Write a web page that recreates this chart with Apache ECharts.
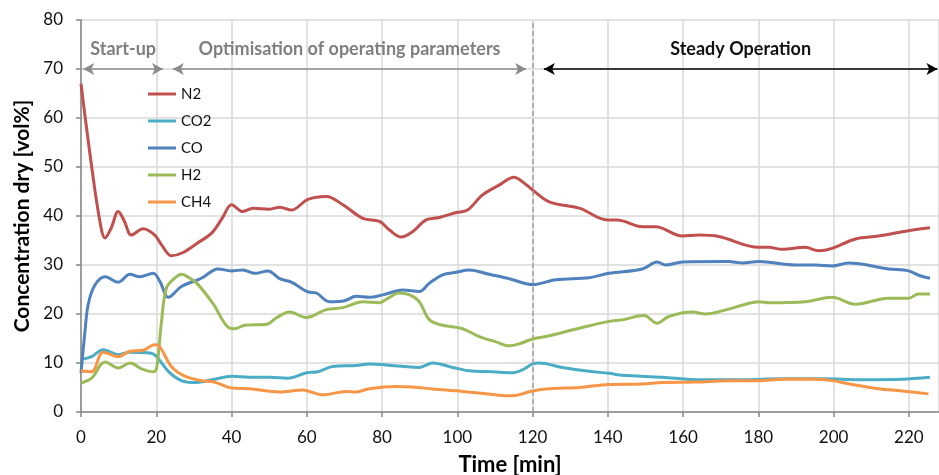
<!DOCTYPE html>
<html>
<head>
<meta charset="utf-8">
<script src="https://cdn.jsdelivr.net/npm/echarts@6/dist/echarts.min.js"></script>
<style>
  html, body { margin: 0; padding: 0; background: #fff; }
  #chart { width: 939px; height: 475px; }
</style>
</head>
<body>
<div id="chart"></div>
<script>
// Gas composition (dry, vol%) over time, as [minute, value] pairs
const n2Data = [[0,67],[2.5,52],[5,39],[6.4,35.5],[8,37.5],[9.9,40.9],[11.5,39],[13.4,36.1],[16.5,37.4],[19.6,36.1],[21.5,34],[24,31.9],[27,32.5],[31,34.5],[34.7,36.5],[37.5,39.5],[40,42.3],[43,40.9],[45.7,41.6],[50.1,41.4],[52.8,41.8],[55.9,41.2],[60.3,43.4],[65.2,44.0],[69.6,42.3],[74.9,39.5],[79.3,38.9],[81.9,37.2],[85.1,35.7],[88.1,36.8],[91.7,39.2],[95.2,39.7],[99.7,40.7],[102.7,41.2],[106.7,44.3],[111.1,46.3],[115.1,47.9],[117.3,47.0],[120,45.3],[124.4,42.9],[132.4,41.6],[139.9,39.2],[142.5,39.2],[149.2,37.8],[152.7,37.8],[159.8,35.9],[164.2,36.1],[169.5,35.8],[180.1,33.6],[182.8,33.6],[186.3,33.2],[192.5,33.6],[196,32.9],[199.6,33.4],[205.8,35.3],[211.9,35.9],[219.9,37.0],[225.6,37.6]];
const co2Data = [[0,10.7],[2.8,11.3],[5.9,12.7],[9.9,11.7],[13,12.2],[18.7,12.0],[20.1,11.3],[23.2,8.3],[26.7,6.4],[30.2,6.0],[35.5,6.7],[40,7.3],[44.8,7.1],[50.1,7.1],[55,6.9],[59.9,8.0],[62.9,8.2],[66.9,9.3],[73.1,9.5],[76.7,9.8],[81.1,9.6],[89.9,9.1],[93.5,10.0],[98.8,9.1],[103.2,8.4],[109.4,8.2],[114.7,8.0],[117.3,8.6],[120,9.8],[121.7,10.0],[127.9,9.1],[135,8.3],[140.3,7.9],[143.8,7.5],[154.5,7.1],[163.3,6.6],[175.7,6.6],[186.3,6.8],[196.9,6.8],[207.5,6.6],[218.1,6.7],[225.6,7.1]];
const coData = [[0,8],[1,16],[1.9,21.9],[3.7,25.9],[6.4,27.6],[9.9,26.5],[13,28.1],[15.6,27.6],[19.2,28.3],[21,26.6],[23.2,23.4],[26.7,25.6],[32,27.3],[36.4,29.2],[40,28.8],[43,29.0],[46.2,28.3],[49.7,28.8],[52.8,27.2],[55.9,26.5],[60.3,24.5],[62.5,24.3],[66,22.5],[70,22.7],[73.1,23.6],[76.7,23.4],[80.2,23.9],[85.5,24.9],[89.9,24.6],[92.6,26.3],[96.1,28.0],[99.7,28.5],[103.2,29.0],[108.5,28.1],[113.8,27.2],[120,26.0],[126.2,27.0],[135,27.4],[140.3,28.3],[149.2,29.2],[153.1,30.6],[155.4,30.0],[159.8,30.6],[172.1,30.7],[175.7,30.4],[180.1,30.7],[189.8,30.0],[195.1,30.0],[199.6,29.8],[204,30.4],[214.6,29.2],[219.9,28.8],[223,27.8],[225.6,27.3]];
const h2Data = [[0,5.9],[2.8,6.9],[6.4,10.2],[9.9,9.0],[13,10.0],[16.1,8.8],[19.2,8.2],[20.1,9.0],[21.4,18.5],[22.7,25.3],[24.9,27.3],[26.7,28.1],[28.5,27.5],[31.1,26.0],[35,22.2],[39.5,17.1],[40.8,17.0],[43.5,17.7],[49.3,17.9],[51.9,19.2],[55.4,20.4],[59.9,19.3],[65.2,20.9],[69.6,21.3],[74.9,22.5],[79.3,22.3],[81.1,23.0],[84.6,24.3],[87.3,23.9],[89.9,22.5],[92.6,18.8],[96.1,17.7],[101.4,17.0],[105.8,15.4],[110.3,14.3],[113.8,13.5],[116.4,13.9],[120,14.9],[123.5,15.4],[132.4,17.1],[140.3,18.5],[143.8,18.8],[149.6,19.7],[153.1,18.1],[156.2,19.5],[162.4,20.4],[165.9,20.0],[172.1,21.0],[176.6,22.0],[180.1,22.5],[182.8,22.3],[192.5,22.5],[199.6,23.4],[205.8,22.0],[214.6,23.2],[219.9,23.2],[222.5,24.1],[225.6,24.1]];
const ch4Data = [[0,8.4],[2.8,8.2],[5.9,12.2],[9.9,11.3],[13,12.4],[16.5,12.6],[19.6,13.7],[20.5,13.6],[24,9.3],[27.6,7.3],[32,6.4],[35.5,6.1],[40,4.9],[44.8,4.75],[52.8,4.1],[59,4.5],[60.3,4.3],[64.3,3.5],[70.5,4.2],[73.1,4.1],[76.7,4.75],[83.7,5.2],[88.1,5.1],[93.5,4.7],[101.4,4.2],[110.3,3.5],[114.7,3.3],[117.3,3.7],[120,4.3],[124.4,4.75],[132.4,5.0],[140.3,5.6],[149.2,5.7],[154.5,6.0],[163.3,6.1],[172.1,6.4],[180.1,6.4],[186.3,6.7],[195.1,6.7],[199.6,6.4],[204.9,5.6],[211.9,4.75],[218.1,4.3],[225.2,3.7]];

const seriesNames = ['N2', 'CO2', 'CO', 'H2', 'CH4'];
const seriesColors = ['#C0504D', '#4BACC6', '#4F81BD', '#9BBB59', '#F79646'];
const seriesData = [n2Data, co2Data, coData, h2Data, ch4Data];

// Operating phases: [label, start min, end min], arrows drawn at the 70 vol% level
const phases = [
  ['Start-up', 0.6, 21.8],
  ['Optimisation of operating parameters', 24.4, 118.3],
  ['Steady Operation', 123, 227.6]
];
const phaseLevel = 70;
const phaseLineColors = ['#8c8c8c', '#8c8c8c', '#000000'];
const phaseTextColors = ['#7f7f7f', '#7f7f7f', '#111111'];
const phaseBoundary = 120;

const FONT = 'Lato, "Liberation Sans", sans-serif';
const chart = echarts.init(document.getElementById('chart'));

const lineSeries = seriesNames.map((name, i) => ({
  name: name,
  type: 'line',
  data: seriesData[i],
  smooth: 0.35,
  showSymbol: false,
  symbol: 'none',
  lineStyle: { color: seriesColors[i], width: 3 },
  itemStyle: { color: seriesColors[i] },
  z: 3 + i
}));

const annotationSeries = {
  name: 'phases',
  type: 'line',
  data: [],
  silent: true,
  markLine: {
    silent: true,
    animation: false,
    data: phases.map((p, i) => [
      {
        coord: [p[1], phaseLevel],
        symbol: 'arrow',
        lineStyle: { color: phaseLineColors[i], width: 1.5, type: 'solid' },
        label: {
          show: true,
          position: 'middle',
          formatter: p[0],
          distance: 11,
          color: phaseTextColors[i],
          fontFamily: FONT,
          fontWeight: 'bold',
          fontSize: 18
        }
      },
      { coord: [p[2], phaseLevel], symbol: 'arrow' }
    ]).concat([[
      {
        coord: [phaseBoundary, 0],
        symbol: 'none',
        lineStyle: { color: '#a0a0a0', width: 1.5, type: [5, 3] },
        label: { show: false }
      },
      { coord: [phaseBoundary, 80], symbol: 'none' }
    ]]),
    symbolSize: [9, 11]
  }
};

chart.setOption({
  animation: false,
  backgroundColor: '#fff',
  grid: { left: 81, right: 0, top: 20, bottom: 63, containLabel: false, outerBoundsMode: 'none' },
  legend: {
    data: seriesNames,
    orient: 'vertical',
    left: 143,
    top: 81,
    itemWidth: 28,
    itemHeight: 3,
    itemGap: 11,
    icon: 'rect',
    textStyle: { fontFamily: FONT, fontSize: 15, color: '#111', lineHeight: 16 }
  },
  xAxis: {
    type: 'value',
    min: 0,
    max: 228,
    interval: 20,
    name: 'Time [min]',
    nameLocation: 'middle',
    nameGap: 42,
    nameTextStyle: { fontFamily: FONT, fontSize: 22, fontWeight: 'bold', color: '#000' },
    axisLine: { show: true, lineStyle: { color: '#868686', width: 1.5 } },
    axisTick: { show: true, length: 5, lineStyle: { color: '#868686', width: 1.5 } },
    axisLabel: { fontFamily: FONT, fontSize: 17, color: '#111', margin: 17, showMaxLabel: false },
    splitLine: { show: true, lineStyle: { color: '#d9d9d9', width: 1.5 } }
  },
  yAxis: {
    type: 'value',
    min: 0,
    max: 80,
    interval: 10,
    name: 'Concentration dry [vol%]',
    nameLocation: 'middle',
    nameGap: 48,
    nameTextStyle: { fontFamily: FONT, fontSize: 21, fontWeight: 'bold', color: '#000' },
    axisLine: { show: true, lineStyle: { color: '#868686', width: 1.5 } },
    axisTick: { show: true, length: 5, lineStyle: { color: '#868686', width: 1.5 } },
    axisLabel: { fontFamily: FONT, fontSize: 17, color: '#111', margin: 18 },
    splitLine: { show: true, lineStyle: { color: '#d9d9d9', width: 1.5 } }
  },
  series: lineSeries.concat([annotationSeries])
});
</script>
</body>
</html>
